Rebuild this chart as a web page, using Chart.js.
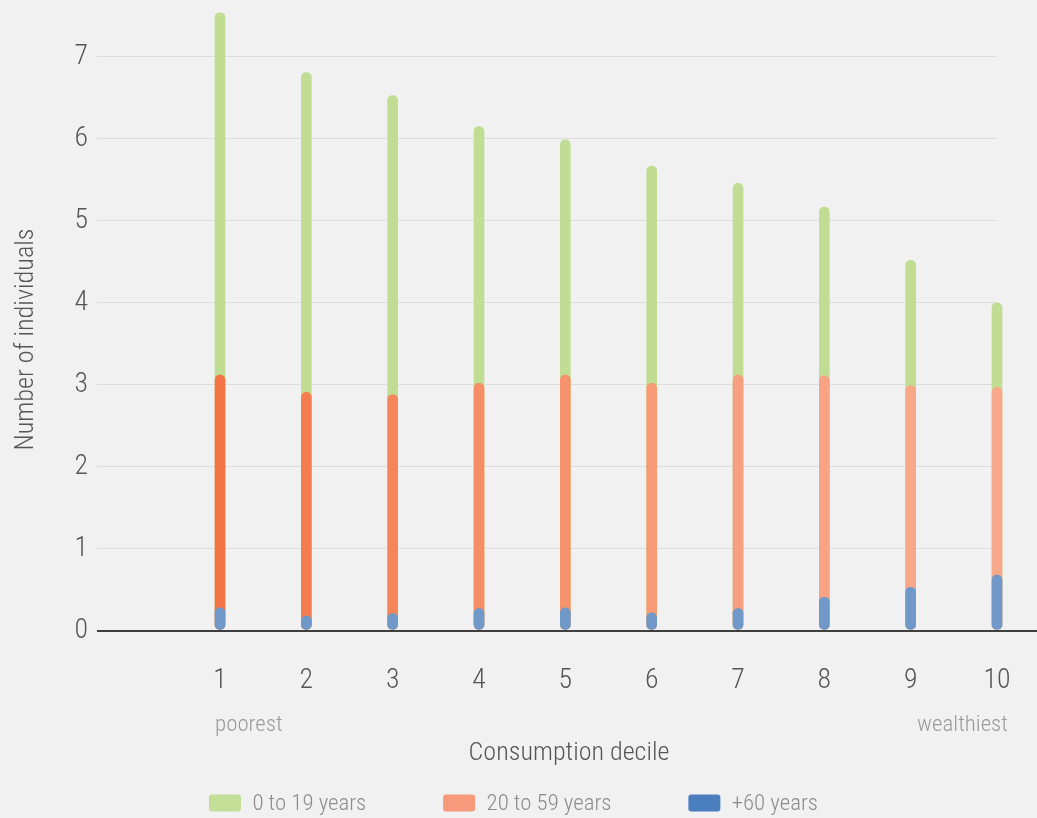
<!DOCTYPE html>
<html>
<head>
<meta charset="utf-8">
<script src="https://cdn.jsdelivr.net/npm/chart.js@4"></script>
<style>
  html, body { margin: 0; padding: 0; background: #f1f1f1; }
  #wrap { width: 1037px; height: 818px; }
</style>
</head>
<body>
<div id="wrap"><canvas id="c" width="1037" height="818"></canvas></div>
<script>
// ---- data ----
const deciles = [1, 2, 3, 4, 5, 6, 7, 8, 9, 10];
const youth = [7.53, 6.80, 6.52, 6.14, 5.98, 5.66, 5.45, 5.16, 4.51, 3.99];   // 0 to 19 years (cumulative top)
const adults = [3.11, 2.90, 2.87, 3.01, 3.11, 3.01, 3.11, 3.10, 2.98, 2.96]; // 20 to 59 years (cumulative top)
const seniors = [0.27, 0.17, 0.20, 0.26, 0.27, 0.21, 0.26, 0.40, 0.52, 0.67]; // +60 years
const seriesNames = ['0 to 19 years', '20 to 59 years', '+60 years'];
const yTicks = [0, 1, 2, 3, 4, 5, 6, 7];
const extremeLabels = ['poorest', 'wealthiest'];
const xTitle = 'Consumption decile';
const yTitle = 'Number of individuals';

// ---- styles ----
const greenBar = '#c1dd93';
const orangeBars = ['#f37445', '#f47d4f', '#f5865a', '#f68d64', '#f7936c', '#f89a76', '#f89f7d', '#f8a484', '#f8a788', '#f8a98b'];
const blueBar = '#7098c9';
const legendColors = ['#c3de96', '#f79a7b', '#4a7ebf'];

// ---- font selection: pick the most condensed installed face ----
const mctx = document.createElement('canvas').getContext('2d');
function hasFamily(f) {
  const s = 'Number of individuals 0123456789';
  let diff = false;
  for (const g of ['monospace', 'serif']) {
    mctx.font = '40px ' + g; const a = mctx.measureText(s).width;
    mctx.font = '40px "' + f + '", ' + g; const b = mctx.measureText(s).width;
    if (Math.abs(a - b) > 0.5) diff = true;
  }
  return diff;
}
const candidates = ['Noto Sans ExtraCondensed Light', 'Noto Sans ExtraCondensed', 'Roboto Condensed Light',
  'Noto Sans Condensed Light', 'Roboto Condensed', 'Noto Sans Condensed', 'Liberation Sans Narrow', 'DejaVu Sans Condensed'];
let FAM = 'DejaVu Sans Condensed';
for (const f of candidates) { if (hasFamily(f)) { FAM = f; break; } }
const FONT = '"' + FAM + '", "DejaVu Sans Condensed", sans-serif';
function textW(t, s) { mctx.font = s + 'px ' + FONT; return mctx.measureText(t).width; }
function fitSize(t, target, maxSize) {
  const w = textW(t, maxSize);
  const s = w > target ? maxSize * target / w : maxSize;
  return Math.round(s * 10) / 10;
}
const tickSize = fitSize('10', 27, 34);
const yTitleSize = fitSize(yTitle, 222, 36);
const xTitleSize = fitSize(xTitle, 201, 36);
const legendSize = fitSize(seriesNames[1], 125, 34);
const extremeSize = fitSize(extremeLabels[1], 91, 32);

// ---- layout helpers ----
const BOX_W = 32, BOX_H = 17;
const itemsW = seriesNames.reduce((a, t) => a + BOX_W + legendSize / 2 + textW(t, legendSize), 0);
const legPad = Math.max(10, Math.min(90, (609 - itemsW) / 2));
const itemH = Math.max(legendSize, BOX_H);
const legTop = 803 - legPad - itemH / 2;
const LEG_H = 818 - legTop;
const plotBottom = 630;
const xAxisH = legTop - plotBottom;

const toPts = arr => arr.map((v, i) => ({ x: deciles[i], y: v }));

const helper = {
  id: 'helper',
  beforeLayout(chart) {
    const lg = chart.legend;
    if (lg && !lg.__fixed) {
      const orig = Object.getPrototypeOf(lg).fit;
      lg.fit = function () { orig.call(this); this.height = LEG_H; };
      lg.__fixed = true;
    }
  },
  afterLayout(chart) {
    const lg = chart.legend;
    if (lg) { lg.left += 15; lg.right += 15; }
    // nudge axis titles (title is centred on the scale box)
    chart.scales.y.top += 42;
    chart.scales.x.left += 44;
  },
  beforeDraw(chart) {
    const ctx = chart.ctx;
    ctx.save();
    ctx.fillStyle = '#f1f1f1';
    ctx.fillRect(0, 0, chart.width, chart.height);
    ctx.restore();
  },
  beforeDatasetsDraw(chart) {
    const ctx = chart.ctx;
    const y0 = chart.scales.y.getPixelForValue(0);
    ctx.save();
    ctx.strokeStyle = '#3f3f3f';
    ctx.lineWidth = 2;
    ctx.beginPath();
    ctx.moveTo(chart.chartArea.left, y0 + 1);
    ctx.lineTo(chart.width, y0 + 1);
    ctx.stroke();
    ctx.restore();
  },
  afterDraw(chart) {
    const ctx = chart.ctx;
    const xs = chart.scales.x;
    const y = xs.top + 94;
    ctx.save();
    ctx.font = extremeSize + 'px ' + FONT;
    ctx.fillStyle = '#9a9a9a';
    ctx.textBaseline = 'middle';
    ctx.textAlign = 'left';
    ctx.fillText(extremeLabels[0], xs.getPixelForValue(deciles[0]) - 5, y);
    ctx.textAlign = 'right';
    ctx.fillText(extremeLabels[1], xs.getPixelForValue(deciles[deciles.length - 1]) + 11, y);
    ctx.restore();
  }
};

const common = { grouped: false, barThickness: 10, borderRadius: 5, borderSkipped: false, clip: false };

new Chart(document.getElementById('c'), {
  type: 'bar',
  data: {
    datasets: [
      Object.assign({ label: seriesNames[0], data: toPts(youth), backgroundColor: greenBar, order: 3 }, common),
      Object.assign({ label: seriesNames[1], data: toPts(adults), backgroundColor: orangeBars, order: 2 }, common),
      Object.assign({ label: seriesNames[2], data: toPts(seniors), backgroundColor: blueBar, order: 1 }, common)
    ]
  },
  plugins: [helper],
  options: {
    responsive: false,
    animation: false,
    layout: { padding: { left: 0, right: 40, top: 7, bottom: 0 } },
    plugins: {
      tooltip: { enabled: false },
      legend: {
        position: 'bottom',
        labels: {
          font: { family: FONT, size: legendSize },
          color: '#8c8c8c',
          boxWidth: BOX_W,
          boxHeight: BOX_H,
          padding: legPad,
          useBorderRadius: true,
          borderRadius: 3,
          generateLabels: (chart) => chart.data.datasets.map((ds, i) => ({
            text: ds.label,
            fillStyle: legendColors[i],
            strokeStyle: legendColors[i],
            lineWidth: 0,
            fontColor: '#8c8c8c',
            borderRadius: 3,
            datasetIndex: i,
            hidden: false
          })),
          sort: (a, b) => a.datasetIndex - b.datasetIndex
        }
      }
    },
    scales: {
      x: {
        type: 'linear',
        offset: false,
        min: -0.425,
        max: 10,
        grid: { display: false, drawTicks: false, offset: false },
        border: { display: false },
        afterBuildTicks: (axis) => { axis.ticks = deciles.map(v => ({ value: v })); },
        afterFit: (scale) => { scale.height = xAxisH; scale.paddingLeft = 0; scale.paddingRight = 0; },
        ticks: {
          autoSkip: false,
          maxRotation: 0,
          padding: 50 - tickSize * 0.6,
          color: '#555555',
          font: { family: FONT, size: tickSize },
          callback: (v) => String(v)
        },
        title: {
          display: true,
          text: xTitle,
          color: '#555555',
          font: { family: FONT, size: xTitleSize },
          padding: { top: 0, bottom: legTop - 752 - xTitleSize * 0.6 }
        }
      },
      y: {
        min: 0,
        max: 7.6,
        grid: {
          color: (c) => (c.tick && c.tick.value === 0 ? 'rgba(0,0,0,0)' : '#dcdcdc'),
          lineWidth: 1,
          drawTicks: false
        },
        border: { display: false },
        afterBuildTicks: (axis) => { axis.ticks = yTicks.map(v => ({ value: v })); },
        afterFit: (scale) => { scale.width = 97; scale.paddingTop = 0; scale.paddingBottom = 0; },
        ticks: {
          padding: 9,
          color: '#555555',
          font: { family: FONT, size: tickSize }
        },
        title: {
          display: true,
          text: yTitle,
          color: '#555555',
          font: { family: FONT, size: yTitleSize },
          padding: { top: 25 - yTitleSize * 0.6, bottom: 0 }
        }
      }
    }
  }
});
</script>
</body>
</html>
